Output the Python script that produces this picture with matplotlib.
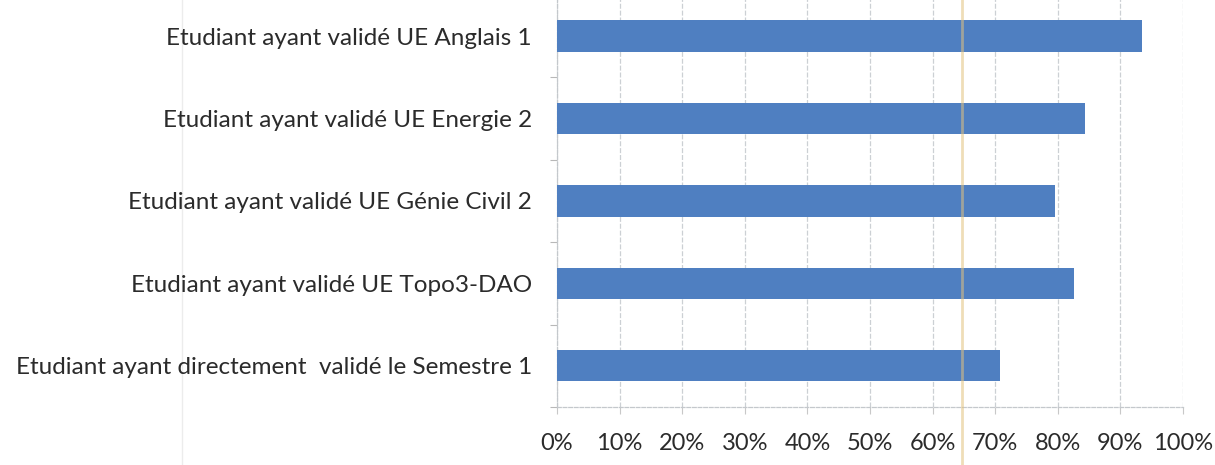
import numpy as np
import matplotlib.pyplot as plt
from matplotlib.ticker import FixedLocator, PercentFormatter

# Taux de validation par UE (de bas en haut)
categories = [
    "Etudiant ayant directement  validé le Semestre 1",
    "Etudiant ayant validé UE Topo3-DAO",
    "Etudiant ayant validé UE Génie Civil 2",
    "Etudiant ayant validé UE Energie 2",
    "Etudiant ayant validé UE Anglais 1",
]
rates = [0.707, 0.826, 0.796, 0.844, 0.935]
x_ticks = np.arange(0, 1.01, 0.1)

plt.rcParams['font.family'] = ['Lato', 'DejaVu Sans']

fig = plt.figure(figsize=(12.15, 4.65), dpi=100)
ax = fig.add_axes([0.4584, 0.1247, 0.5153, 0.8863])

y = np.arange(len(categories))
ax.barh(y, rates, height=0.38, color='#4f7fc1', zorder=3)

ax.set_xlim(0, 1)
ax.set_ylim(-0.5, len(categories) - 0.5)
ax.set_xticks(x_ticks)
ax.xaxis.set_major_formatter(PercentFormatter(1.0, decimals=0))
ax.set_yticks(y)
ax.set_yticklabels(categories)
ax.yaxis.set_minor_locator(FixedLocator(np.arange(-0.5, len(categories), 1)))

ax.tick_params(axis='y', which='major', length=0, pad=18, labelsize=17.5, labelcolor='#2b2b2b')
ax.tick_params(axis='y', which='minor', length=5, color='#b8b8b8', width=0.8)
ax.tick_params(axis='x', length=5, color='#c8c8c8', width=0.8, pad=14,
               labelsize=17, labelcolor='#2b2b2b')

ax.grid(axis='x', color='#ccd0d4', linewidth=0.9, linestyle=(0, (4, 1.5)), zorder=0)
for side in ['top', 'right']:
    ax.spines[side].set_visible(False)
for side in ['left', 'bottom']:
    ax.spines[side].set_color('#c4c8cc')
    ax.spines[side].set_linewidth(0.9)
    ax.spines[side].set_linestyle((0, (3, 1.5)))

# pli du papier
fig.add_artist(plt.Line2D([962 / 1215, 962 / 1215], [0, 1], transform=fig.transFigure,
                          color='#e2c27e', linewidth=2, alpha=0.55, zorder=10))
fig.add_artist(plt.Line2D([182 / 1215, 182 / 1215], [0, 1], transform=fig.transFigure,
                          color='#ececec', linewidth=1, zorder=0))

fig.savefig('out.png', dpi=100)
